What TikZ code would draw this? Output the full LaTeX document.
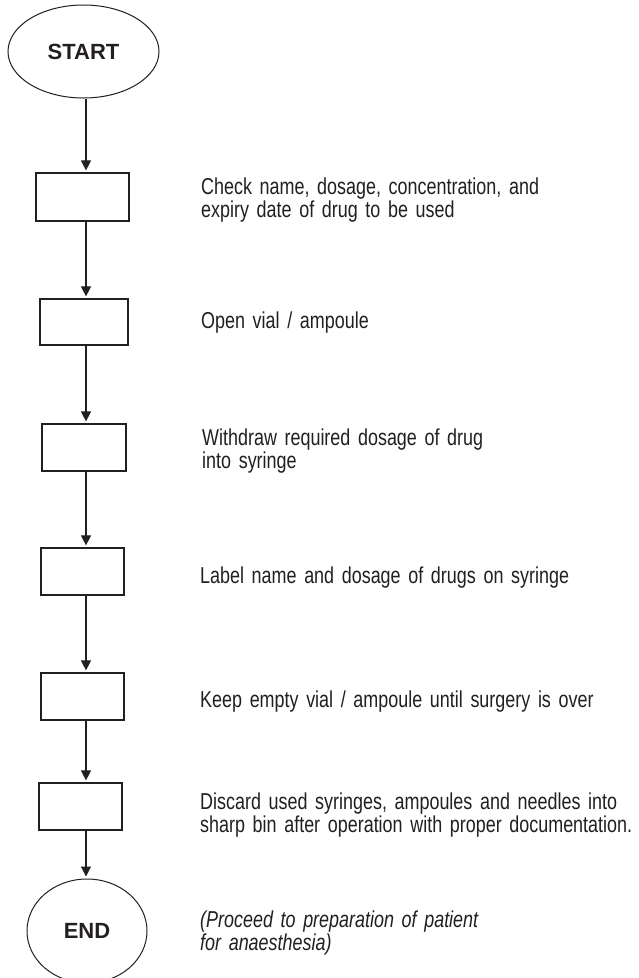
\documentclass[tikz,border=0pt]{standalone}
\usepackage{fontspec}
\setmainfont{Liberation Sans}
\newfontfamily\bodyfont{Liberation Sans}[FakeStretch=0.78]
\usetikzlibrary{shapes.geometric,arrows.meta}
\definecolor{ink}{HTML}{231F20}
\tikzset{
  x=1pt, y=-1pt,
  terminal/.style={ellipse, draw=ink, line width=1pt, inner sep=0pt,
    font=\fontsize{22}{24}\selectfont\bfseries, text=ink},
  stepbox/.style={rectangle, draw=ink, line width=1.2pt, inner sep=0pt},
  note/.style={anchor=base west, inner sep=0pt, text width=450pt, align=left,
    font=\bodyfont\fontsize{23}{23}\selectfont, text=ink},
  arr/.style={draw=ink, line width=1.1pt, shorten >=2pt,
    -{Triangle[length=10pt,width=10pt]}}
}
\begin{document}
\begin{tikzpicture}
\useasboundingbox (0,0) rectangle (639,978);
\clip (0,0) rectangle (639,978);
\fill[white] (0,0) rectangle (639,978);

% flow column
\coordinate (axis) at (86,0);
\node[terminal, minimum width=151pt, minimum height=93pt] (start) at (83.5,51.5) {START};
\node[stepbox, minimum width=93pt, minimum height=48pt] (b1) at (82.5,197) {};
\node[stepbox, minimum width=88pt, minimum height=46pt] (b2) at (84,322) {};
\node[stepbox, minimum width=84pt, minimum height=47pt] (b3) at (84,447.5) {};
\node[stepbox, minimum width=83pt, minimum height=47pt] (b4) at (82.5,571.5) {};
\node[stepbox, minimum width=83pt, minimum height=47pt] (b5) at (82.5,696.5) {};
\node[stepbox, minimum width=83pt, minimum height=47pt] (b6) at (80.5,806.5) {};
\node[terminal, minimum width=120pt, minimum height=104pt] (end) at (87,931) {END};

% connectors
\draw[arr] (start.south -| axis) -- (b1.north -| axis);
\draw[arr] (b1.south -| axis) -- (b2.north -| axis);
\draw[arr] (b2.south -| axis) -- (b3.north -| axis);
\draw[arr] (b3.south -| axis) -- (b4.north -| axis);
\draw[arr] (b4.south -| axis) -- (b5.north -| axis);
\draw[arr] (b5.south -| axis) -- (b6.north -| axis);
\draw[arr] (b6.south -| axis) -- (end.north -| axis);

% step descriptions
\node[note] (t1) at (201,194) {Check name, dosage, concentration, and\\expiry date of drug to be used};
\node[note] (t2) at (201,328) {Open vial / ampoule};
\node[note] (t3) at (202,445) {Withdraw required dosage of drug\\into syringe};
\node[note] (t4) at (200,583) {Label name and dosage of drugs on syringe};
\node[note] (t5) at (200,707) {Keep empty vial / ampoule until surgery is over};
\node[note] (t6) at (200,809) {Discard used syringes, ampoules and needles into\\sharp bin after operation with proper documentation.};
\node[note, font=\bodyfont\itshape\fontsize{23}{23}\selectfont] (t7) at (200,927) {(Proceed to preparation of patient\\for anaesthesia)};
\end{tikzpicture}
\end{document}
